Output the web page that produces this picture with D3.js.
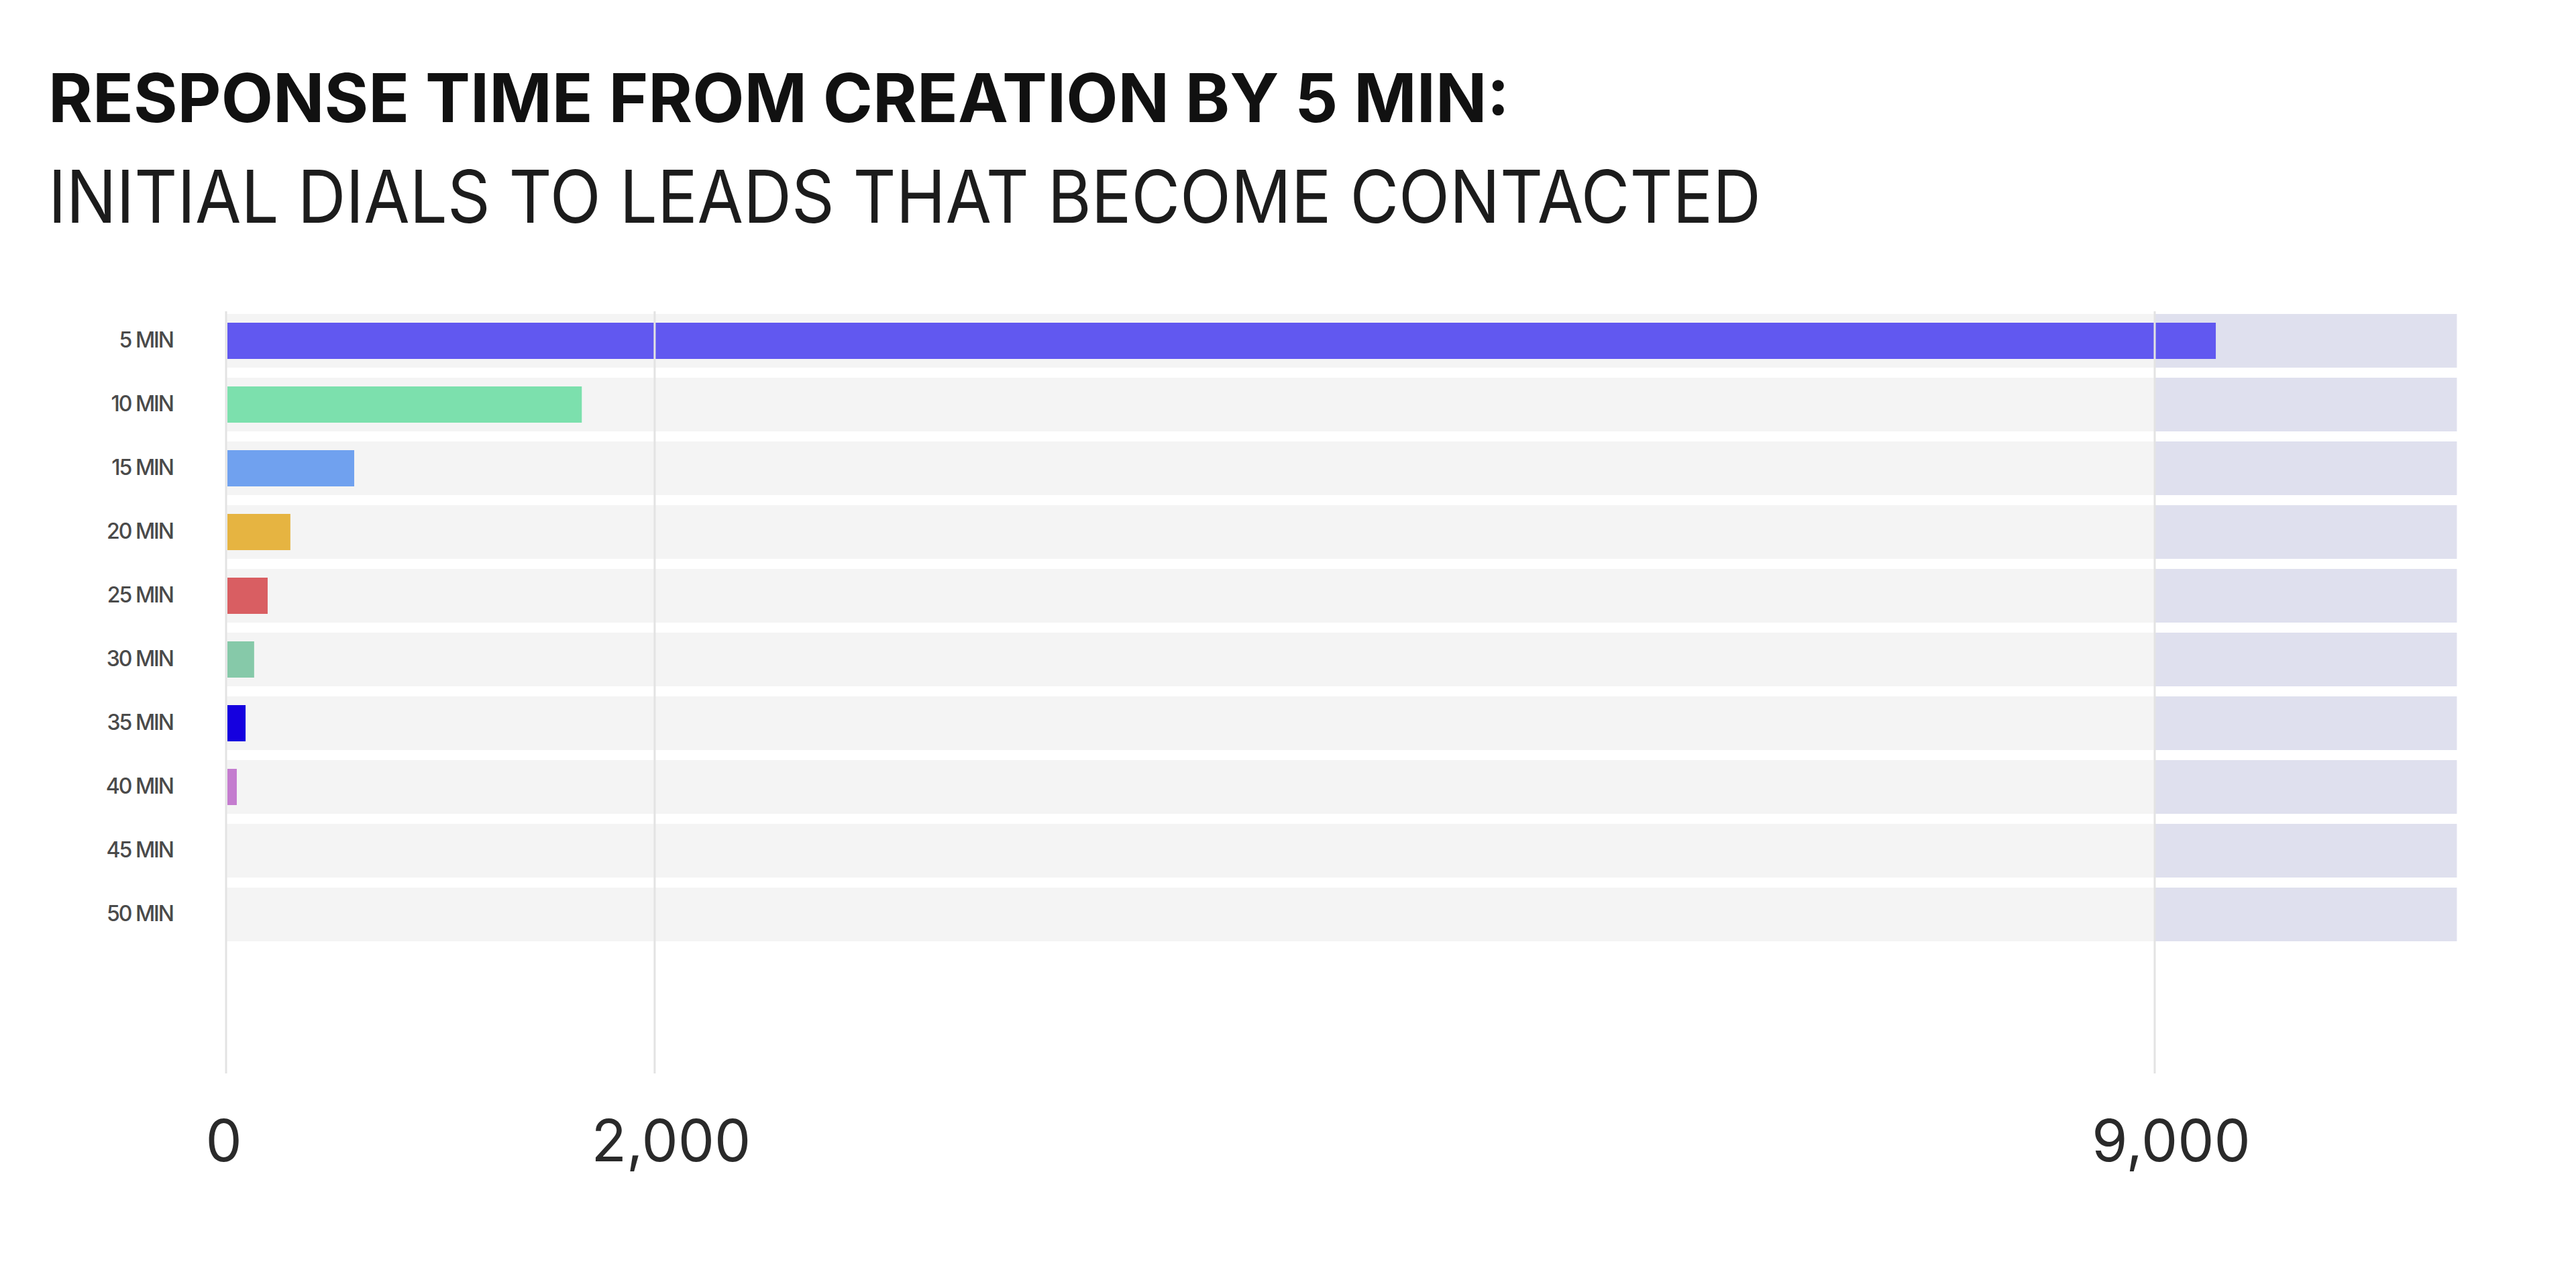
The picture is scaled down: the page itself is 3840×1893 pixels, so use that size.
<!DOCTYPE html>
<html>
<head>
<meta charset="utf-8">
<script src="https://cdn.jsdelivr.net/npm/d3@7"></script>
<style>
  body { margin: 0; background: #fff; }
  svg { display: block; }
</style>
</head>
<body>
<div id="chart"></div>
<script>
// data
const categories = ["5 MIN", "10 MIN", "15 MIN", "20 MIN", "25 MIN", "30 MIN", "35 MIN", "40 MIN", "45 MIN", "50 MIN"];
const dials = [9285, 1660, 598, 300, 194, 131, 91, 50, 0, 0];
const barColors = ["#6158f0", "#7ce0ad", "#70a1ef", "#e6b441", "#d95e62", "#86c9a9", "#1500df", "#c47ccf", "#bbbbbb", "#bbbbbb"];
const tickValues = [0, 2000, 9000];
const axisMax = 10410;      // right end of the row bands
const targetStart = 9000;   // where the lavender zone begins

const titleText = "RESPONSE TIME FROM CREATION BY 5 MIN:";
const subtitleText = "INITIAL DIALS TO LEADS THAT BECOME CONTACTED";

const width = 3840, height = 1893;

const svg = d3.select("#chart").append("svg")
    .attr("width", width)
    .attr("height", height);

svg.append("rect").attr("width", width).attr("height", height).attr("fill", "#fff");

// titles
svg.append("text")
    .attr("x", 72).attr("y", 182)
    .attr("textLength", 2178).attr("lengthAdjust", "spacingAndGlyphs")
    .style("font-family", "Inter, 'Noto Sans', sans-serif")
    .style("font-weight", 700)
    .style("font-size", "100px")
    .style("fill", "#111")
    .text(titleText);

svg.append("text")
    .attr("x", 72).attr("y", 332)
    .attr("textLength", 2553).attr("lengthAdjust", "spacingAndGlyphs")
    .style("font-family", "Inter, 'Noto Sans', sans-serif")
    .style("font-weight", 400)
    .style("font-size", "108px")
    .style("fill", "#1c1c1c")
    .text(subtitleText);

// scales
const x = d3.scaleLinear()
    .domain([0, targetStart])
    .range([337, 3212]);

const y = d3.scaleBand()
    .domain(categories)
    .range([468, 1403])
    .paddingInner(15 / 95)
    .paddingOuter(0);

const barH = 54;

// row backgrounds
const rows = svg.append("g").selectAll("g.row")
    .data(categories)
    .enter().append("g")
    .attr("class", "row");

rows.append("rect")
    .attr("x", x(0))
    .attr("y", d => y(d))
    .attr("width", x(targetStart) - x(0))
    .attr("height", y.bandwidth())
    .attr("fill", "#f4f4f4");

rows.append("rect")
    .attr("x", x(targetStart))
    .attr("y", d => y(d))
    .attr("width", x(axisMax) - x(targetStart))
    .attr("height", y.bandwidth())
    .attr("fill", "#dfe0ee");

// bars
svg.append("g").selectAll("rect.bar")
    .data(categories)
    .enter().append("rect")
    .attr("class", "bar")
    .attr("x", x(0) + 2)
    .attr("y", d => y(d) + (y.bandwidth() - barH) / 2)
    .attr("width", (d, i) => Math.max(0, x(dials[i]) - x(0) - 2))
    .attr("height", barH)
    .attr("fill", (d, i) => barColors[i]);

// gridlines on top of bars
svg.append("g").selectAll("line.grid")
    .data(tickValues)
    .enter().append("line")
    .attr("class", "grid")
    .attr("x1", d => x(d)).attr("x2", d => x(d))
    .attr("y1", 464).attr("y2", 1600)
    .attr("stroke", "#e3e3e3")
    .attr("stroke-width", 3);

// x axis labels
const xAxis = d3.axisBottom(x)
    .tickValues(tickValues)
    .tickFormat(d3.format(","))
    .tickSize(0)
    .tickPadding(0);

const gx = svg.append("g")
    .attr("transform", "translate(0,1670)")
    .call(xAxis);
gx.select(".domain").remove();
gx.selectAll("text")
    .attr("dy", "0.71em")
    .attr("dx", d => d === 0 ? -4 : 24)
    .style("font-family", "Inter, 'Noto Sans', sans-serif")
    .style("font-weight", 400)
    .style("font-size", "86px")
    .style("fill", "#2a2a2a");

// category labels
const yAxis = d3.axisLeft(y).tickSize(0).tickPadding(0);
const gy = svg.append("g")
    .attr("transform", "translate(258,0)")
    .call(yAxis);
gy.select(".domain").remove();
gy.selectAll("text")
    .style("font-family", "Inter, 'Noto Sans', sans-serif")
    .style("font-weight", 500)
    .style("font-size", "32px")
    .style("letter-spacing", "-2px")
    .style("fill", "#4a4a4a");
</script>
</body>
</html>
